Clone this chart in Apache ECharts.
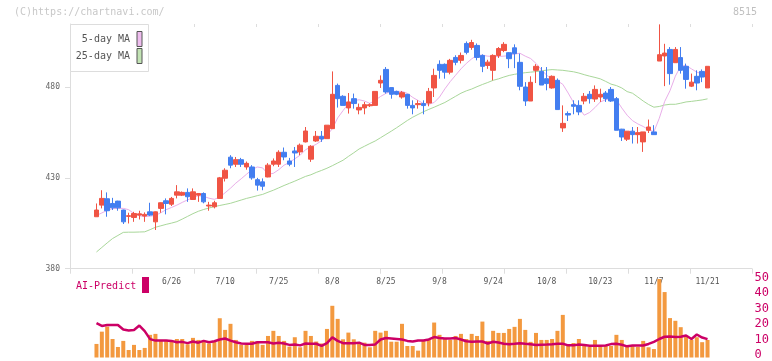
<!DOCTYPE html>
<html><head><meta charset="utf-8">
<script src="https://cdn.jsdelivr.net/npm/echarts@6.0.0/dist/echarts.min.js"></script>
<style>html,body{margin:0;padding:0;background:#fff}#c{width:772px;height:361px}</style>
</head><body><div id="c"></div>
<script>
// ---- data ----
const tickLabels = ['6/26','7/10','7/25','8/8','8/25','9/8','9/24','10/8','10/23','11/7','11/21'];
const tickIndex  = [14,24,34,44,54,64,74,84,94,104,114];
const priceTicks = [380,430,480];
const aiTicks    = [0,10,20,30,40,50];

const openP = [408.6,415.0,418.5,415.9,417.2,412.3,408.8,408.2,409.5,409.0,
411.3,405.8,413.2,417.4,415.5,420.5,420.5,422.0,418.1,420.5,
421.4,414.5,414.1,418.7,429.8,441.4,437.5,440.0,436.0,436.0,
429.0,427.8,430.5,437.5,437.5,444.1,439.3,444.8,444.3,449.8,
440.3,450.3,452.9,451.6,457.1,480.9,474.9,468.5,473.6,467.4,
468.5,469.7,469.9,482.2,489.7,479.7,477.6,474.5,476.0,469.9,
470.3,470.9,471.2,479.5,492.5,492.5,488.2,496.3,494.7,504.0,
501.8,502.9,497.4,491.9,489.2,497.4,500.1,498.9,501.6,493.6,
480.0,472.3,489.2,488.6,484.6,479.5,483.7,457.5,465.4,470.3,
469.9,472.3,476.0,473.4,474.5,476.7,478.7,473.6,456.8,451.3,
455.7,453.8,449.8,456.2,455.3,494.3,497.1,500.7,493.4,496.2,
491.4,480.5,485.9,488.6,479.5];
const closeP = [412.3,418.7,411.9,413.5,413.5,405.8,409.2,410.4,410.2,409.9,
409.5,411.3,416.3,415.9,418.7,422.3,422.0,419.6,422.3,421.4,
416.8,415.0,416.3,430.0,434.2,437.0,440.0,437.5,438.0,430.0,
426.0,425.4,437.0,439.3,444.1,441.5,437.5,443.7,448.0,455.8,
447.4,452.9,451.4,459.0,476.0,473.6,469.9,471.8,470.9,468.8,
470.3,470.3,477.6,483.7,477.3,476.0,476.0,476.9,469.9,468.5,
470.9,469.8,477.6,486.4,489.2,488.2,494.7,493.6,497.4,499.1,
504.5,496.3,491.4,493.7,497.4,501.2,503.5,495.6,498.4,480.4,
472.3,482.6,491.4,481.1,481.9,485.9,467.6,460.0,464.6,469.4,
466.3,474.9,473.6,478.7,476.0,473.6,472.3,456.2,452.5,455.7,
453.8,454.9,455.3,458.0,453.8,497.8,498.7,487.4,500.7,489.2,
484.2,482.7,482.2,485.5,491.4];
const lowP = [408.6,413.2,408.6,412.3,411.9,404.6,404.9,405.8,407.1,405.8,
409.0,401.3,410.8,409.9,414.5,418.7,420.0,416.8,418.0,416.8,
416.0,411.9,413.2,418.5,428.0,435.3,436.0,436.0,434.5,429.0,
423.0,423.2,430.3,436.4,436.0,439.7,436.4,436.0,442.5,449.5,
438.8,449.8,449.8,451.6,457.1,468.7,469.9,465.4,468.1,465.0,
465.0,469.0,469.9,479.5,476.4,473.6,475.5,473.6,468.1,465.0,
468.1,465.0,469.4,474.5,484.6,484.6,487.0,492.0,493.0,498.0,
500.5,494.7,488.2,490.0,483.7,496.0,499.2,490.4,490.4,478.2,
469.6,472.3,482.2,481.1,478.2,479.1,467.6,455.3,461.3,465.0,
464.5,470.5,470.9,471.8,471.8,471.8,471.8,456.2,450.3,450.3,
448.9,448.9,444.3,454.7,453.8,494.3,480.5,481.3,493.4,487.4,
479.1,480.0,478.2,482.7,479.5];
const highP = [415.9,423.2,422.0,419.0,417.4,412.5,410.8,411.3,411.9,411.0,
416.3,411.5,416.5,418.7,419.5,426.0,422.5,424.2,424.2,421.5,
422.0,416.8,417.4,430.5,435.3,442.5,441.5,441.0,439.0,437.0,
430.0,429.7,438.1,440.7,445.2,446.7,441.0,447.0,448.9,458.0,
448.0,455.8,455.8,459.0,488.6,481.9,475.5,476.7,476.4,470.9,
471.8,471.0,477.6,486.4,491.0,479.7,478.0,477.8,476.2,472.7,
472.7,472.7,479.5,490.1,494.7,493.0,495.5,497.5,499.0,505.1,
506.0,504.0,498.0,495.0,498.0,502.0,504.7,499.2,503.5,498.4,
482.7,485.9,492.6,491.0,491.0,486.4,484.7,469.9,466.6,472.7,
472.7,476.7,477.8,480.9,479.1,477.8,480.0,474.5,457.0,455.7,
458.0,458.0,455.3,462.1,459.0,514.5,503.8,502.0,502.0,502.0,
492.9,487.4,489.2,489.7,491.4];
const ma5 = [409.3,410.7,412.1,413.1,413.2,413.2,412.5,410.3,409.1,408.7,
408.9,409.3,410.8,412.5,413.7,415.0,416.5,417.9,419.1,420.2,
419.8,418.8,418.2,419.4,421.8,424.3,427.1,429.5,432.0,434.5,
436.0,435.5,432.0,432.5,434.5,437.0,438.5,440.5,442.5,445.5,
447.0,448.5,450.5,453.5,457.0,463.0,467.0,470.9,472.5,473.0,
472.3,471.0,472.7,474.8,476.5,477.6,477.6,477.6,476.5,474.3,
472.6,470.9,470.5,471.5,474.5,479.0,483.0,486.5,490.0,493.0,
495.5,497.5,497.5,497.0,496.8,496.8,497.0,497.3,498.2,498.6,
497.0,495.7,493.0,489.5,486.5,484.0,483.4,481.5,476.7,471.5,
468.5,464.5,466.0,468.7,471.8,473.0,473.8,473.0,468.5,464.5,
461.5,459.7,458.3,456.5,455.4,462.8,472.0,478.0,486.0,491.5,
491.8,490.0,488.2,487.3,487.5];
const ma25 = [389.2,391.7,394.2,396.6,398.3,400.0,400.1,400.1,400.2,400.3,
401.5,402.8,403.6,404.4,405.1,405.9,407.3,408.8,410.3,411.6,
412.6,413.4,414.2,414.8,415.4,416.0,416.9,417.8,418.7,419.4,
420.2,420.9,422.1,423.2,424.5,425.8,427.0,428.2,429.5,430.8,
431.7,433.0,434.1,435.3,436.7,438.2,439.7,441.8,443.8,445.9,
447.4,448.9,450.3,452.1,453.9,455.7,457.6,459.6,461.6,463.4,
464.9,466.4,467.7,468.9,470.2,471.5,473.2,474.9,476.6,477.9,
478.9,480.2,481.4,482.5,483.7,484.5,485.5,486.4,487.0,487.5,
487.9,488.2,488.5,488.9,489.3,489.6,489.4,489.2,488.8,488.4,
487.7,486.8,486.0,485.3,484.5,483.1,481.6,480.8,479.5,477.5,
476.6,474.5,472.3,470.4,468.9,469.3,470.1,470.5,470.5,471.1,
471.8,472.1,472.5,472.9,473.5];
const volume = [8.5,16.2,19.4,11.6,6.6,10.4,4.7,7.9,4.7,6.0,
14.2,14.8,11.0,11.0,9.9,11.6,11.6,8.3,12.3,11.0,
10.4,8.8,9.9,24.6,17.3,21.1,11.0,7.9,7.9,10.4,
9.9,7.9,13.5,16.7,13.5,10.4,6.8,12.7,6.4,16.7,
13.5,10.0,8.8,17.9,32.4,24.2,11.4,15.6,11.4,8.8,
9.3,6.4,16.7,15.6,16.7,9.9,9.9,21.1,7.2,7.2,
4.3,11.0,11.0,21.9,14.2,11.6,11.0,13.5,14.8,11.6,
14.8,13.5,22.5,10.4,16.7,15.4,15.4,17.9,19.2,24.2,
17.3,9.8,15.4,11.0,11.0,11.6,16.7,26.7,7.9,9.1,
11.6,7.9,6.6,11.0,7.2,7.2,7.2,14.2,11.0,7.2,
7.2,6.6,10.4,6.4,5.3,49.2,41.0,24.7,23.0,19.0,
13.1,11.0,12.7,9.6,11.0];
const aiPredict = [21.5,19.8,20.4,20.4,20.4,17.5,16.9,17.2,20.0,16.5,
11.5,10.6,10.6,10.6,10.4,9.6,9.8,9.0,10.0,9.3,
10.4,9.6,10.2,11.3,11.9,10.6,9.6,8.8,8.6,8.6,
9.6,9.6,9.6,8.8,9.3,8.8,7.9,8.2,7.6,8.8,
8.6,8.6,7.3,9.0,12.6,10.4,9.0,9.0,9.0,9.3,
7.9,7.9,8.2,11.3,12.2,11.9,11.6,11.3,10.4,10.0,
10.6,10.6,11.3,12.8,12.2,11.9,11.9,12.2,11.3,10.2,
9.8,10.0,10.0,8.8,9.9,9.4,8.6,8.3,8.6,9.0,
8.6,8.3,7.9,8.0,8.1,8.3,8.6,8.6,7.6,7.6,
8.1,7.8,7.3,7.3,7.3,7.5,8.4,8.6,8.0,7.0,
7.5,7.5,7.5,8.5,9.8,11.6,13.0,13.1,12.8,13.0,
13.8,11.6,14.4,12.5,11.5];

// ---- chart ----
const N = closeP.length;
const cats = closeP.map((_, i) => String(i));
const candles = openP.map((o, i) => [o, closeP[i], lowP[i], highP[i]]);
const FONT = 'DejaVu Sans Mono';
const RED = '#f05444', BLUE = '#437ef0', AXIS = '#dddddd';
const P_MIN = 380, P_MAX = 514.7;

const chart = echarts.init(document.getElementById('c'), null, {renderer: 'canvas'});
chart.setOption({
  animation: false,
  backgroundColor: '#ffffff',
  grid: [
    {left: 70, width: 682, top: 24, height: 244.7},
    {left: 93.8, width: 616.4, top: 24, height: 244.7},
    {left: 93.8, width: 616.4, top: 277.7, height: 79.8},
    {left: 70, width: 682, top: 277.7, height: 79.8}
  ],
  xAxis: [
    {gridIndex: 0, type: 'value', min: 0, max: 11, interval: 1,
     axisLine: {show: true, lineStyle: {color: AXIS, width: 1}},
     axisTick: {show: true, length: 5, lineStyle: {color: AXIS}},
     axisLabel: {show: false}, splitLine: {show: false}},
    {gridIndex: 0, type: 'value', min: 0, max: 11, interval: 1,
     axisLine: {show: false},
     axisTick: {show: true, inside: true, length: 3, lineStyle: {color: AXIS}},
     axisLabel: {show: false}, splitLine: {show: false}},
    {gridIndex: 1, type: 'category', data: cats, boundaryGap: true,
     axisLine: {show: false}, axisTick: {show: false}, splitLine: {show: false},
     axisLabel: {
       show: true, margin: 9, color: '#555', fontFamily: FONT, fontSize: 8,
       interval: (idx) => tickIndex.indexOf(idx) >= 0,
       formatter: (v, idx) => { const k = tickIndex.indexOf(Number(v)); return k >= 0 ? tickLabels[k] : ''; }
     }},
    {gridIndex: 2, type: 'category', data: cats, boundaryGap: true, show: false},
    {gridIndex: 3, type: 'value', min: 0, max: 1, show: false}
  ],
  yAxis: [
    {gridIndex: 0, type: 'value', min: P_MIN, max: P_MAX, interval: 50,
     axisLine: {show: true, lineStyle: {color: AXIS, width: 1}},
     axisTick: {show: true, length: 5, lineStyle: {color: AXIS}, customValues: priceTicks},
     axisLabel: {show: true, margin: 10, color: '#666', fontFamily: FONT, fontSize: 8,
       customValues: priceTicks,
       formatter: (v) => priceTicks.indexOf(v) >= 0 ? String(v) : ''},
     splitLine: {show: false}},
    {gridIndex: 1, type: 'value', min: P_MIN, max: P_MAX, show: false, splitLine: {show: false}},
    {gridIndex: 2, type: 'value', min: 0, max: 50, show: false, splitLine: {show: false}},
    {gridIndex: 3, type: 'value', min: 0, max: 50, interval: 10, position: 'right',
     axisLine: {show: false}, axisTick: {show: false}, splitLine: {show: false},
     axisLabel: {show: true, margin: 5, color: '#cc0066', fontFamily: FONT, fontSize: 12,
       formatter: (v) => aiTicks.indexOf(v) >= 0 ? String(v) : ''}}
  ],
  series: [
    {type: 'line', name: '25-day MA', xAxisIndex: 2, yAxisIndex: 1, data: ma25,
     showSymbol: false, symbol: 'none', lineStyle: {color: '#a9d79a', width: 1}, z: 2},
    {type: 'line', name: '5-day MA', xAxisIndex: 2, yAxisIndex: 1, data: ma5,
     showSymbol: false, symbol: 'none', lineStyle: {color: '#e9aee9', width: 1}, z: 2},
    {type: 'candlestick', xAxisIndex: 2, yAxisIndex: 1, data: candles, barWidth: 5, z: 3,
     itemStyle: {color: RED, color0: BLUE, borderColor: RED, borderColor0: BLUE, borderWidth: 1}},
    {type: 'bar', xAxisIndex: 3, yAxisIndex: 2, data: volume, barWidth: 4,
     itemStyle: {color: '#f3993f'}, z: 2},
    {type: 'line', name: 'AI-Predict', xAxisIndex: 3, yAxisIndex: 2, data: aiPredict,
     showSymbol: false, symbol: 'none', lineStyle: {color: '#cc0066', width: 2.5}, z: 3}
  ],
  graphic: [
    {type: 'text', x: 14, y: 12, style: {text: '(C)https://chartnavi.com/', font: '10px "DejaVu Sans Mono"', fill: '#c8c8c8', textVerticalAlign: 'middle'}},
    {type: 'text', x: 757, y: 12, style: {text: '8515', font: '10px "DejaVu Sans Mono"', fill: '#c0c0c0', textAlign: 'right', textVerticalAlign: 'middle'}},
    {type: 'rect', shape: {x: 70.5, y: 24.5, width: 78, height: 47}, style: {fill: '#fff', stroke: '#dddddd', lineWidth: 1}, z: 10},
    {type: 'text', x: 130, y: 39, z: 11, style: {text: '5-day MA', font: '10px "DejaVu Sans Mono"', fill: '#555', textAlign: 'right', textVerticalAlign: 'middle'}},
    {type: 'rect', z: 11, shape: {x: 137, y: 31.5, width: 5, height: 15}, style: {fill: '#efbdef', stroke: '#555', lineWidth: 1}},
    {type: 'text', x: 130, y: 56, z: 11, style: {text: '25-day MA', font: '10px "DejaVu Sans Mono"', fill: '#555', textAlign: 'right', textVerticalAlign: 'middle'}},
    {type: 'rect', z: 11, shape: {x: 137, y: 48.5, width: 5, height: 15}, style: {fill: '#c2e3b4', stroke: '#555', lineWidth: 1}},
    {type: 'text', x: 76, y: 286, style: {text: 'AI-Predict', font: '10px "DejaVu Sans Mono"', fill: '#cc0066', textVerticalAlign: 'middle'}},
    {type: 'rect', shape: {x: 142, y: 277, width: 7, height: 16}, style: {fill: '#cc0066'}}
  ]
});
</script>
</body></html>
